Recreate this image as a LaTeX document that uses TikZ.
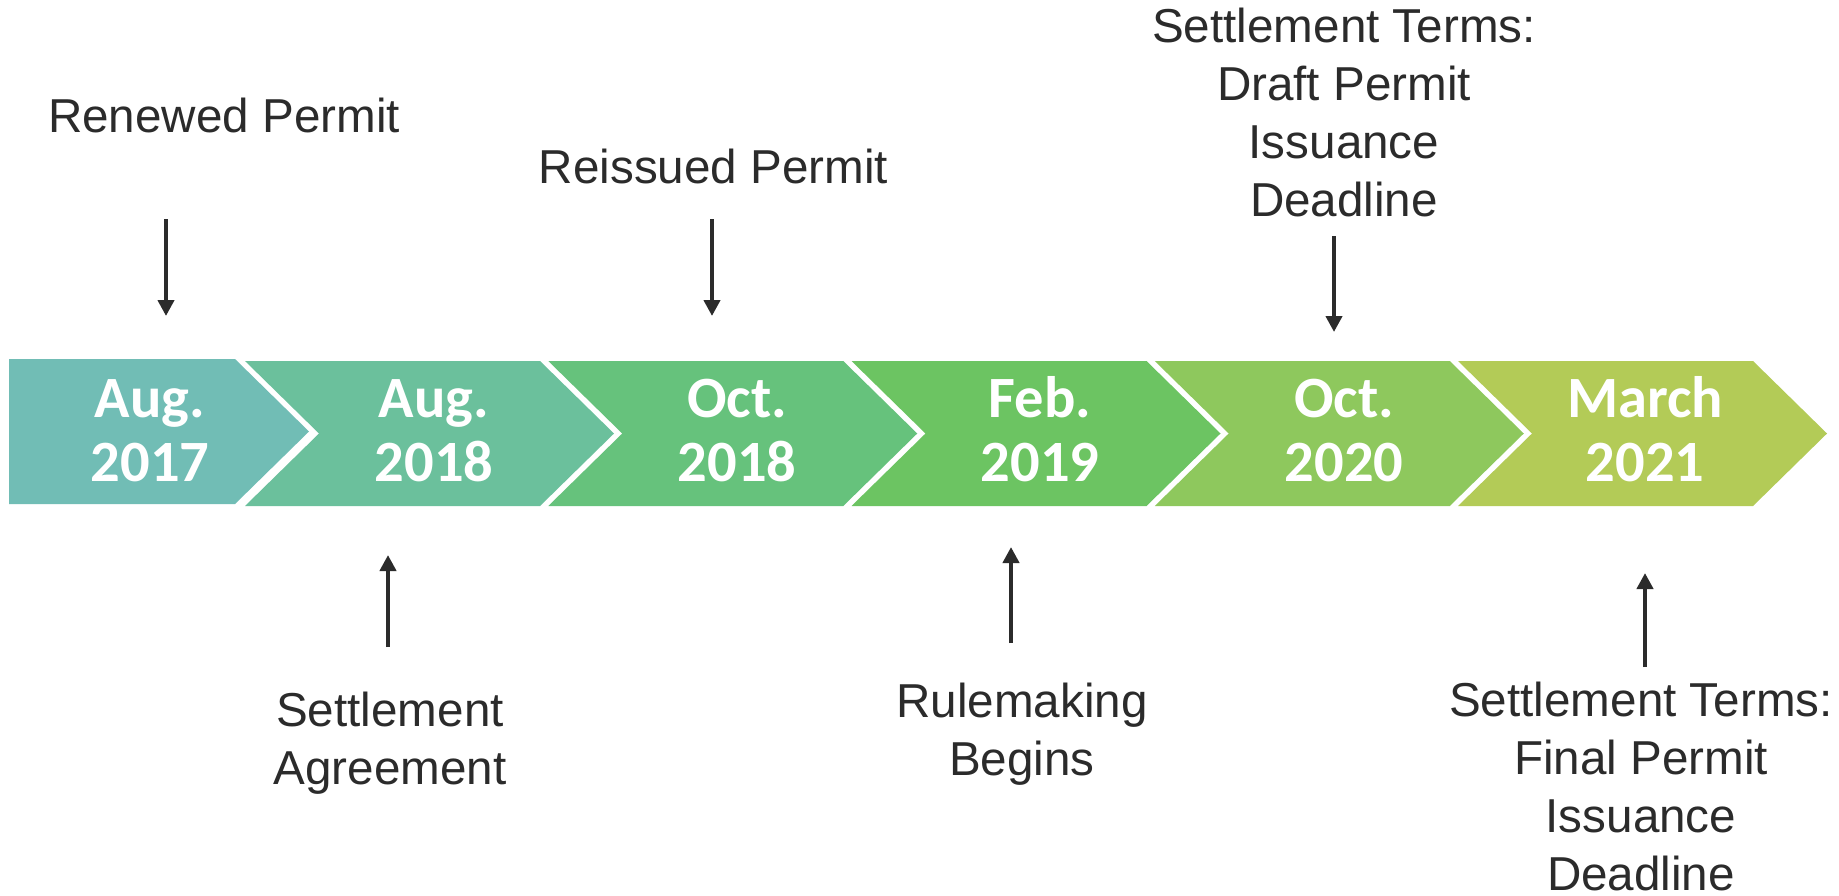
\documentclass[tikz,border=0pt]{standalone}
\usepackage{fontspec}
\setmainfont{Liberation Sans}
\newfontfamily\chevfont{Carlito}
\usetikzlibrary{arrows.meta}
\definecolor{c1}{HTML}{71BDB5}
\definecolor{c2}{HTML}{6BC09C}
\definecolor{c3}{HTML}{66C27C}
\definecolor{c4}{HTML}{6CC462}
\definecolor{c5}{HTML}{8EC85D}
\definecolor{c6}{HTML}{B3CB57}
\definecolor{txt}{HTML}{2B2B2B}
\tikzset{
  lbl/.style={font=\fontsize{47.6}{57.7}\selectfont, text=txt, align=center, inner sep=0pt, anchor=base},
  chtxt/.style={font=\chevfont\bfseries\fontsize{58.5}{64}\selectfont, text=white, align=center, inner sep=0pt, anchor=base},
  arr/.style={draw=txt, line width=4.5pt, -{Triangle[width=16pt,length=16pt]}},
}
\begin{document}
\begin{tikzpicture}[x=1pt,y=-1pt]
\fill[white] (0,0) rectangle (1839,895);
\useasboundingbox (0,0) rectangle (1839,895);
% chevrons
\fill[c1] (9,359) -- (235,359) -- (309,431.5) -- (235,504) -- (9,504) -- cycle;
\fill[c2] (245,361) -- (540,361) -- (614,433.5) -- (540,506) -- (245,506) -- (319,433.5) -- cycle;
\fill[c3] (548.25,361) -- (843.25,361) -- (917.25,433.5) -- (843.25,506) -- (548.25,506) -- (622.25,433.5) -- cycle;
\fill[c4] (851.5,361) -- (1146.5,361) -- (1220.5,433.5) -- (1146.5,506) -- (851.5,506) -- (925.5,433.5) -- cycle;
\fill[c5] (1154.75,361) -- (1449.75,361) -- (1523.75,433.5) -- (1449.75,506) -- (1154.75,506) -- (1228.75,433.5) -- cycle;
\fill[c6] (1458,361) -- (1753,361) -- (1827,433.5) -- (1753,506) -- (1458,506) -- (1532,433.5) -- cycle;
% chevron texts (anchor = baseline of last line)
\node[chtxt] (d1) at (150,481) {Aug.\\2017};
\node[chtxt] (d2) at (434,481) {Aug.\\2018};
\node[chtxt] (d3) at (737,481) {Oct.\\2018};
\node[chtxt] (d4) at (1040,481) {Feb.\\2019};
\node[chtxt] (d5) at (1344,481) {Oct.\\2020};
\node[chtxt] (d6) at (1645,481) {March\\2021};
% labels
\node[lbl] (ren) at (224,132) {Renewed Permit};
\node[lbl] (reis) at (713.5,183) {Reissued Permit};
\node[lbl] (sett) at (390,784) {Settlement\\Agreement};
\node[lbl] (rule) at (1022,775.5) {Rulemaking\\Begins};
\node[lbl] (draft) at (1344,216) {Settlement Terms:\\Draft Permit\\Issuance\\Deadline};
\node[lbl] (final) at (1641,890) {Settlement Terms:\\Final Permit\\Issuance\\Deadline};
% arrows
\coordinate (a1s) at (166,219); \coordinate (a1e) at (166,316);
\coordinate (a2s) at (388,647); \coordinate (a2e) at (388,555);
\coordinate (a3s) at (712,219); \coordinate (a3e) at (712,316);
\coordinate (a4s) at (1011,643); \coordinate (a4e) at (1011,547);
\coordinate (a5s) at (1334,236); \coordinate (a5e) at (1334,332);
\coordinate (a6s) at (1645,667); \coordinate (a6e) at (1645,573);
\draw[arr] (a1s) -- (a1e);
\draw[arr] (a2s) -- (a2e);
\draw[arr] (a3s) -- (a3e);
\draw[arr] (a4s) -- (a4e);
\draw[arr] (a5s) -- (a5e);
\draw[arr] (a6s) -- (a6e);
\end{tikzpicture}
\end{document}
